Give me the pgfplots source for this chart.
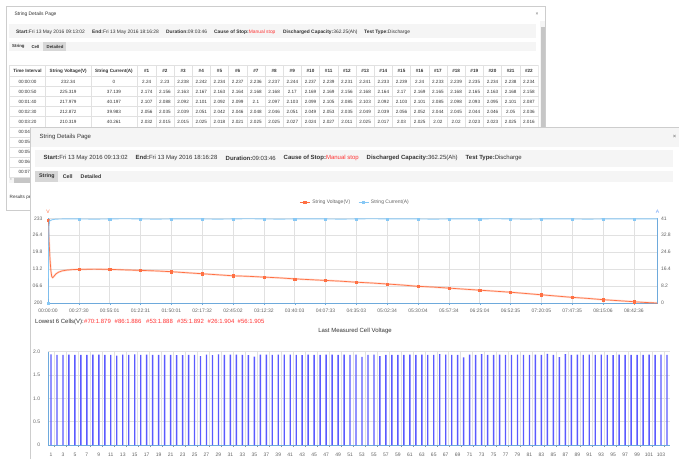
\documentclass[border=0pt]{standalone}
\usepackage{pgfplots}
\usepackage{pgfplotstable}
\pgfplotsset{compat=1.18}
\usepackage{fontspec}
\setmainfont{Liberation Sans}
\definecolor{volt}{RGB}{255,112,67}
\definecolor{curr}{RGB}{135,200,245}
\definecolor{axblue}{RGB}{110,170,220}
\definecolor{gridc}{RGB}{225,225,225}
\definecolor{barblue}{RGB}{90,90,255}
\definecolor{redtxt}{RGB}{255,51,51}
\definecolor{txt}{RGB}{51,51,51}
\definecolor{tickc}{RGB}{100,100,100}
\definecolor{panel}{RGB}{245,245,245}
\definecolor{tabsel}{RGB}{215,215,215}
\definecolor{bord}{RGB}{205,205,205}

\pgfplotstableread{
c v
1 1.943
2 1.932
3 1.932
4 1.935
5 1.932
6 1.930
7 1.932
8 1.936
9 1.936
10 1.932
11 1.934
12 1.915
13 1.936
14 1.930
15 1.943
16 1.930
17 1.935
18 1.930
19 1.934
20 1.930
21 1.933
22 1.928
23 1.925
24 1.934
25 1.934
26 1.904
27 1.935
28 1.928
29 1.943
30 1.934
31 1.935
32 1.936
33 1.932
34 1.929
35 1.892
36 1.935
37 1.936
38 1.934
39 1.935
40 1.936
41 1.935
42 1.932
43 1.926
44 1.935
45 1.931
46 1.934
47 1.936
48 1.936
49 1.934
50 1.936
51 1.934
52 1.935
53 1.888
54 1.932
55 1.935
56 1.905
57 1.930
58 1.932
59 1.934
60 1.932
61 1.936
62 1.934
63 1.936
64 1.934
65 1.932
66 1.950
67 1.936
68 1.932
69 1.932
70 1.879
71 1.936
72 1.930
73 1.950
74 1.934
75 1.932
76 1.936
77 1.932
78 1.934
79 1.936
80 1.932
81 1.934
82 1.936
83 1.932
84 1.955
85 1.934
86 1.886
87 1.948
88 1.934
89 1.936
90 1.934
91 1.936
92 1.930
93 1.935
94 1.932
95 1.928
96 1.936
97 1.934
98 1.932
99 1.930
100 1.934
101 1.935
102 1.932
103 1.936
104 1.934
}\cells

\newcommand\tf{\fontsize{4.6}{5}\selectfont}
\newcommand\hf{\fontsize{4.9}{5.5}\selectfont}
\newcommand\ff{\fontsize{6}{7}\selectfont}

\begin{document}
\begin{tikzpicture}[x=1pt,y=1pt]
\path[use as bounding box] (0,0) rectangle (679,459);
\begin{scope}[yshift=459pt,y=-1pt]
% ---------- back window ----------
\draw[bord,fill=white] (6.5,6.5) rectangle (545.5,210);
\node[anchor=west,font=\hf,text=txt] at (11,14) {String Details Page};
\node[font=\hf,text=tickc] at (537,14) {×};
\fill[panel] (9,24) rectangle (536,38);
\fill[panel] (9,42) rectangle (536,51);
\fill[tabsel] (43,42.5) rectangle (65.7,51);
\begin{scope}[every node/.style={anchor=west,font=\hf,text=txt,inner sep=0}]
\node at (16,32) {\textbf{Start:}Fri 13 May 2016 09:13:02};
\node at (92,32) {\textbf{End:}Fri 13 May 2016 18:16:28};
\node at (166,32) {\textbf{Duration:}09:03:46};
\node at (214,32) {\textbf{Cause of Stop:}\textcolor{redtxt}{Manual stop}};
\node at (283,32) {\textbf{Discharged Capacity:}362.25(Ah)};
\node at (364,32) {\textbf{Test Type:}Discharge};
\node[font=\fontsize{4.3}{5}\selectfont\bfseries] at (12,46.8) {String};
\node[font=\fontsize{4.3}{5}\selectfont\bfseries] at (31.3,46.8) {Cell};
\node[font=\fontsize{4.3}{5}\selectfont\bfseries] at (46.5,46.8) {Detailed};
\end{scope}
% scrollbars
\fill[panel] (540,21) rectangle (545,128);
\fill[gray!45] (540.5,27) rectangle (544.5,128);
\fill[panel] (9,176.5) rectangle (30,183);
\fill[gray!45] (14,177) rectangle (30,182.5);
\node[font=\fontsize{4}{4}\selectfont,text=tickc,inner sep=0] at (11,179.7) {‹};
\node[anchor=west,font=\tf,text=txt,inner sep=0] at (9.5,197.7) {Results per page};
% table
\begin{scope}
\clip (8.5,60) rectangle (538.5,200);
\foreach \yy in {65.5,76.3,86.4,96.5,106.6,116.7,126.8,136.9,147,157.1,167.2,177.3}
  \draw[gridc,line width=0.5pt] (9,\yy) -- (540,\yy);
\foreach \xx in {9,45,91,137.6}
  \draw[gridc,line width=0.5pt] (\xx,65.5) -- (\xx,177.3);
\foreach \k in {1,...,22}
  \draw[gridc,line width=0.5pt] ({137.6+\k*18.2},65.5) -- ({137.6+\k*18.2},177.3);
\begin{scope}[every node/.style={font=\tf,text=txt,inner sep=0}]
\node[font=\tf\bfseries] at (27.5,71) {Time Interval};
\node[font=\tf\bfseries] at (68.2,71) {String Voltage(V)};
\node[font=\tf\bfseries] at (114,71) {String Current(A)};
\foreach \k in {1,...,22} \node[font=\tf\bfseries] at ({146.7+(\k-1)*18.2},71) {\#\k};
\node at (27.5,81.5) {00:00:00};\node at (68.2,81.5) {232.34};\node at (114,81.5) {0};
\node at (27.5,91.6) {00:00:50};\node at (68.2,91.6) {225.319};\node at (114,91.6) {37.139};
\node at (27.5,101.7) {00:01:40};\node at (68.2,101.7) {217.979};\node at (114,101.7) {40.197};
\node at (27.5,111.8) {00:02:30};\node at (68.2,111.8) {212.872};\node at (114,111.8) {39.983};
\node at (27.5,121.9) {00:03:20};\node at (68.2,121.9) {210.319};\node at (114,121.9) {40.261};
\node at (27.5,132) {00:04:10};
\node at (27.5,142.1) {00:05:00};
\node at (27.5,152.2) {00:05:50};
\node at (27.5,162.3) {00:06:40};
\node at (27.5,172.4) {00:07:30};
\foreach \v [count=\i] in {2.24,2.23,2.238,2.242,2.234,2.237,2.236,2.237,2.244,2.237,2.239,2.231,2.241,2.233,2.239,2.24,2.233,2.239,2.235,2.234,2.238,2.234}
  \node at ({146.7+(\i-1)*18.2},81.5) {\v};
\foreach \v [count=\i] in {2.174,2.156,2.163,2.167,2.163,2.164,2.168,2.168,2.17,2.169,2.169,2.156,2.168,2.164,2.17,2.169,2.165,2.168,2.165,2.163,2.168,2.158}
  \node at ({146.7+(\i-1)*18.2},91.6) {\v};
\foreach \v [count=\i] in {2.107,2.088,2.092,2.101,2.092,2.099,2.1,2.097,2.103,2.099,2.105,2.085,2.103,2.092,2.103,2.101,2.085,2.098,2.093,2.095,2.101,2.087}
  \node at ({146.7+(\i-1)*18.2},101.7) {\v};
\foreach \v [count=\i] in {2.056,2.035,2.039,2.051,2.042,2.046,2.048,2.046,2.051,2.049,2.053,2.035,2.049,2.039,2.056,2.052,2.044,2.045,2.044,2.046,2.05,2.036}
  \node at ({146.7+(\i-1)*18.2},111.8) {\v};
\foreach \v [count=\i] in {2.032,2.015,2.015,2.025,2.018,2.021,2.025,2.025,2.027,2.024,2.027,2.011,2.025,2.017,2.03,2.025,2.02,2.02,2.023,2.023,2.025,2.016}
  \node at ({146.7+(\i-1)*18.2},121.9) {\v};
\end{scope}
\end{scope}
% ---------- front window ----------
\fill[white] (30.5,127) rectangle (679,459);
\draw[bord] (30.5,459) -- (30.5,127) -- (679,127);
\fill[panel] (31,127.5) rectangle (679,147);
\node[anchor=west,font=\ff,text=txt,inner sep=0] at (39.5,136.8) {String Details Page};
\node[font=\ff,text=tickc,inner sep=0] at (674.5,136.8) {×};
\fill[panel] (35,149.5) rectangle (673,167);
\fill[panel] (35,170.5) rectangle (673,182);
\fill[tabsel] (35,170.5) rectangle (58.3,182);
\begin{scope}[every node/.style={anchor=west,font=\ff,text=txt,inner sep=0}]
\node at (43.5,158.3) {\textbf{Start:}Fri 13 May 2016 09:13:02};
\node at (135.5,158.3) {\textbf{End:}Fri 13 May 2016 18:16:28};
\node at (225.5,158.3) {\textbf{Duration:}09:03:46};
\node at (283.5,158.3) {\textbf{Cause of Stop:}\textcolor{redtxt}{Manual stop}};
\node at (366.5,158.3) {\textbf{Discharged Capacity:}362.25(Ah)};
\node at (465.5,158.3) {\textbf{Test Type:}Discharge};
\node[font=\fontsize{5.3}{6}\selectfont\bfseries] at (39,176.3) {String};
\node[font=\fontsize{5.3}{6}\selectfont\bfseries] at (62.7,176.3) {Cell};
\node[font=\fontsize{5.3}{6}\selectfont\bfseries] at (80.5,176.3) {Detailed};
\node at (35,321.7) {Lowest 6 Cells(V):};
\node[text=redtxt] at (84,321.7) {\#70:1.879};
\node[text=redtxt] at (114.5,321.7) {\#86:1.886};
\node[text=redtxt] at (146,321.7) {\#53:1.888};
\node[text=redtxt] at (177,321.7) {\#35:1.892};
\node[text=redtxt] at (207.5,321.7) {\#26:1.904};
\node[text=redtxt] at (237.5,321.7) {\#56:1.905};
\end{scope}
\node[font=\ff,text=txt,inner sep=0] at (355,331) {Last Measured Cell Voltage};
\node[font=\fontsize{5}{6}\selectfont,text=volt,inner sep=0] at (48,211.5) {V};
\node[font=\fontsize{5}{6}\selectfont,text=curr!80!blue,inner sep=0] at (657.5,211.5) {A};
\end{scope}

% ---------- line chart: voltage ----------
\begin{axis}[
  at={(48pt,156pt)}, anchor=south west, scale only axis,
  width=609.5pt, height=84.7pt,
  xmin=0, xmax=32626, ymin=200, ymax=233,
  scaled x ticks=false, scaled y ticks=false,
  axis x line*=bottom, axis y line*=left,
  axis line style={draw=axblue, line width=1pt},
  xtick={0,1650.5,3301,4951.5,6602,8252.5,9903,11553.5,13204,14854.5,16505,18155.5,19806,21456.5,23107,24757.5,26408,28058.5,29709,31359.5},
  xticklabels={00:00:00,00:27:30,00:55:01,01:22:31,01:50:01,02:17:32,02:45:02,03:12:32,03:40:03,04:07:33,04:35:03,05:02:34,05:30:04,05:57:34,06:25:04,06:52:35,07:20:05,07:47:35,08:15:06,08:42:36},
  ytick={200,206.6,213.2,219.8,226.4,233},
  yticklabels={200,06.6,13.2,19.8,26.4,233},
  grid=major, major grid style={gridc, line width=0.6pt},
  tick align=outside, major tick length=2pt,
  xtick style={draw=axblue}, ytick style={draw=none},
  xticklabel style={font=\fontsize{5}{6}\selectfont, text=tickc},
  yticklabel style={font=\fontsize{5}{6}\selectfont, text=tickc},
  legend style={at={(0.504,1.19)}, anchor=center, draw=none, fill=none,
    font=\fontsize{5}{6}\selectfont, text=tickc, legend columns=2,
    /tikz/every even column/.append style={column sep=6pt}},
  legend image code/.code={\draw[mark repeat=2,mark phase=2] plot coordinates {(0pt,0pt) (5pt,0pt) (10pt,0pt)};},
]
\addplot[volt, line width=2pt, opacity=0.25, forget plot] coordinates {
(0,232.34)(50,225.319)(100,217.979)(150,212.872)(200,210.319)(250,209.9)(320,210.4)(420,211.3)(560,212.0)(750,212.5)(1000,212.8)(1300,213.0)(1650.5,213.1)(2475,213.2)(3301,213.1)(4126,212.9)(4951.5,212.7)(5777,212.5)(6602,212.2)(7427,211.8)(8252.5,211.4)(9078,211.0)(9903,210.6)(10728,210.4)(11553.5,210.1)(12379,209.8)(13204,209.4)(14029,209.1)(14854.5,208.8)(15680,208.5)(16505,208.1)(17330,207.8)(18155.5,207.4)(18981,207.0)(19806,206.5)(20631,206.2)(21456.5,205.8)(22282,205.4)(23107,205.0)(23932,204.6)(24757.5,204.2)(25583,203.7)(26408,203.2)(27233,202.7)(28058.5,202.2)(28884,201.8)(29709,201.3)(30534,200.9)(31359.5,200.5)(32000,200.2)(32626,200.0)};
\addplot[volt, line width=0.7pt, forget plot] coordinates {
(0,232.34)(50,225.319)(100,217.979)(150,212.872)(200,210.319)(250,209.9)(320,210.4)(420,211.3)(560,212.0)(750,212.5)(1000,212.8)(1300,213.0)(1650.5,213.1)(2475,213.2)(3301,213.1)(4126,212.9)(4951.5,212.7)(5777,212.5)(6602,212.2)(7427,211.8)(8252.5,211.4)(9078,211.0)(9903,210.6)(10728,210.4)(11553.5,210.1)(12379,209.8)(13204,209.4)(14029,209.1)(14854.5,208.8)(15680,208.5)(16505,208.1)(17330,207.8)(18155.5,207.4)(18981,207.0)(19806,206.5)(20631,206.2)(21456.5,205.8)(22282,205.4)(23107,205.0)(23932,204.6)(24757.5,204.2)(25583,203.7)(26408,203.2)(27233,202.7)(28058.5,202.2)(28884,201.8)(29709,201.3)(30534,200.9)(31359.5,200.5)(32000,200.2)(32626,200.0)};
\addplot[only marks, mark=square*, mark size=1.1pt, volt, forget plot] coordinates {
(0,232.34)(1650.5,213.1)(3301,213.1)(4951.5,212.7)(6602,212.2)(8252.5,211.4)(9903,210.6)(11553.5,210.1)(13204,209.4)(14854.5,208.8)(16505,208.1)(18155.5,207.4)(19806,206.5)(21456.5,205.8)(23107,205.0)(24757.5,204.2)(26408,203.2)(28058.5,202.2)(29709,201.3)(31359.5,200.5)};
\addlegendimage{volt, line width=0.8pt, mark=square*, mark size=1.1pt}
\addlegendentry{String Voltage(V)}
\addlegendimage{curr, line width=0.8pt, mark=square*, mark size=1.1pt}
\addlegendentry{String Current(A)}
\end{axis}

% ---------- line chart: current ----------
\begin{axis}[
  at={(48pt,156pt)}, anchor=south west, scale only axis,
  width=609.5pt, height=84.7pt,
  xmin=0, xmax=32626, ymin=0, ymax=41,
  scaled x ticks=false, scaled y ticks=false,
  axis y line*=right, axis x line=none,
  axis line style={draw=axblue, line width=1pt},
  ytick={0,8.2,16.4,24.6,32.8,41},
  yticklabels={0,8.2,16.4,24.6,32.8,41},
  ytick style={draw=none},
  yticklabel style={font=\fontsize{5}{6}\selectfont, text=tickc},
]
\addplot[curr, line width=0.9pt] coordinates {
(0,0)(50,37.139)(100,40.197)(150,39.983)(200,40.261)(400,40.6)(800,40.7)(1650.5,40.7)(2475,40.6)(3301,40.7)(4126,40.8)(4951.5,40.7)(5777,40.6)(6602,40.7)(7427,40.7)(8252.5,40.7)(9078,40.6)(9903,40.7)(10728,40.8)(11553.5,40.7)(12379,40.6)(13204,40.7)(14029,40.7)(14854.5,40.7)(15680,40.6)(16505,40.7)(17330,40.8)(18155.5,40.7)(18981,40.7)(19806,40.7)(20631,40.6)(21456.5,40.7)(22282,40.7)(23107,40.7)(23932,40.8)(24757.5,40.7)(25583,40.6)(26408,40.7)(27233,40.7)(28058.5,40.7)(28884,40.6)(29709,40.7)(30534,40.7)(31359.5,40.7)(32000,40.7)(32626,40.7)};
\addplot[only marks, mark=square*, mark size=1.1pt, curr] coordinates {
(0,0)(1650.5,40.7)(3301,40.7)(4951.5,40.7)(6602,40.7)(8252.5,40.7)(9903,40.7)(11553.5,40.7)(13204,40.7)(14854.5,40.7)(16505,40.7)(18155.5,40.7)(19806,40.7)(21456.5,40.7)(23107,40.7)(24757.5,40.7)(26408,40.7)(28058.5,40.7)(29709,40.7)(31359.5,40.7)};
\end{axis}

% ---------- bar chart ----------
\begin{axis}[
  at={(48pt,14pt)}, anchor=south west, scale only axis,
  width=622pt, height=93.3pt,
  xmin=0.5, xmax=104.5, ymin=0, ymax=2,
  axis x line*=bottom, axis y line*=left,
  axis line style={draw=axblue, line width=1pt},
  xtick={1,3,...,103},
  minor xtick={1.5,3.5,...,103.5},
  major x tick style={draw=none},
  minor x tick style={draw=tickc!70},
  tick align=outside, minor tick length=2pt,
  xminorgrids, minor grid style={gridc, line width=0.5pt},
  ytick={0,0.5,1,1.5,2}, yticklabels={0,0.5,1.0,1.5,2.0},
  ymajorgrids, major grid style={gridc, line width=0.6pt},
  ytick style={draw=none},
  /pgf/number format/assume math mode=true,
  xticklabel style={font=\fontsize{5}{6}\selectfont, text=tickc},
  yticklabel style={font=\fontsize{5}{6}\selectfont, text=tickc},
]
\addplot[ybar, bar width=1.4pt, fill=barblue, draw=none] table[x=c,y=v]{\cells};
\end{axis}
\end{tikzpicture}
\end{document}
